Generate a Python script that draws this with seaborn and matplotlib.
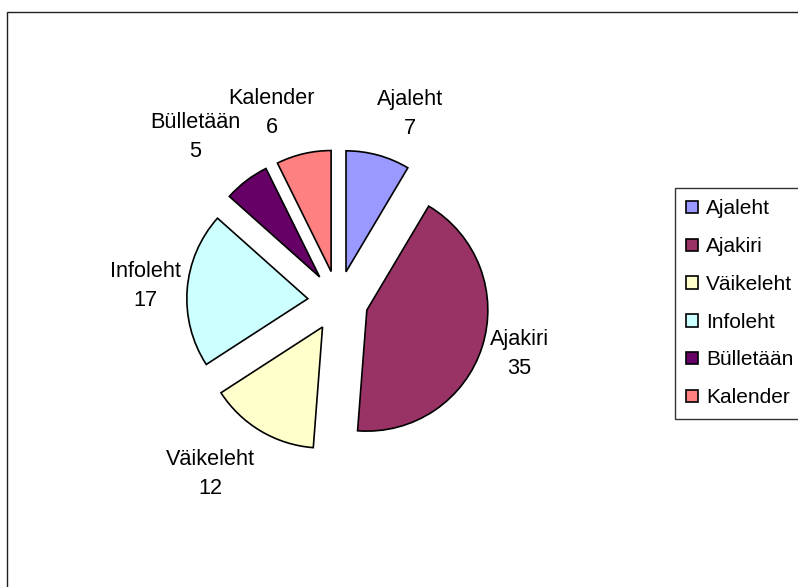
import numpy as np
import matplotlib
matplotlib.use("Agg")
import matplotlib.pyplot as plt
import matplotlib.patches as mpatches
import seaborn as sns

categories = ["Ajaleht", "Ajakiri", "Väikeleht", "Infoleht", "Bülletään", "Kalender"]
values = [7, 35, 12, 17, 5, 6]
colors = ["#9999FF", "#993366", "#FFFFCC", "#CCFFFF", "#660066", "#FF8080"]

# label placement style (distance in radii, clockwise angle nudge in degrees)
label_dist = [1.653, 1.559, 1.782, 1.596, 1.799, 1.649]
label_nudge = [5.8, -1.3, 5.7, 0.2, -3.6, -6.2]

sns.set_theme(style="white")
plt.rcParams["font.family"] = ["Liberation Sans", "DejaVu Sans"]
plt.rcParams["text.color"] = "black"

W, H = 798, 587
fig = plt.figure(figsize=(W / 100, H / 100), dpi=100)
fig.patch.set_facecolor("white")

R = 121.0
cx, cy = 338.0, 301.0
ax = fig.add_axes([0, 0, 1, 1])

pal = sns.color_palette(colors)
wedges, _ = ax.pie(values, colors=pal, startangle=90, counterclock=False,
                   explode=[0.25] * len(values), radius=1.0, center=(0, 0),
                   wedgeprops=dict(edgecolor="black", linewidth=1.2),
                   frame=True)
ax.set_xlim(-cx / R, (W - cx) / R)
ax.set_ylim(-(H - cy) / R, cy / R)
ax.axis("off")

FS = 15.6
for w, cat, val, d, nd in zip(wedges, categories, values, label_dist, label_nudge):
    mid = np.deg2rad((w.theta1 + w.theta2) / 2.0 - nd)
    ax.text(d * np.cos(mid), d * np.sin(mid), f"{cat}\n{val}",
            ha="center", va="center", fontsize=FS, color="black",
            linespacing=1.5)

# outer chart frame
frame = mpatches.Rectangle((7 / W, -0.05), 1.0, (H - 12) / H + 0.05,
                           transform=fig.transFigure, fill=False,
                           edgecolor="#202020", linewidth=1.0, clip_on=False)
fig.patches.append(frame)

LFS = 15.0
leg = fig.legend(wedges, categories, loc="upper left",
                 bbox_to_anchor=(675 / W, 1 - 188 / H),
                 bbox_transform=fig.transFigure, borderaxespad=0,
                 fontsize=LFS, frameon=True, fancybox=False, shadow=False,
                 handlelength=0.54, handleheight=0.54, handletextpad=0.4,
                 labelspacing=0.9, borderpad=0.55, labelcolor="black")
leg.get_frame().set_edgecolor("black")
leg.get_frame().set_linewidth(1.0)
for h in leg.legend_handles:
    h.set_linewidth(1.2)

fig.savefig("out.png", dpi=100, facecolor="white")
